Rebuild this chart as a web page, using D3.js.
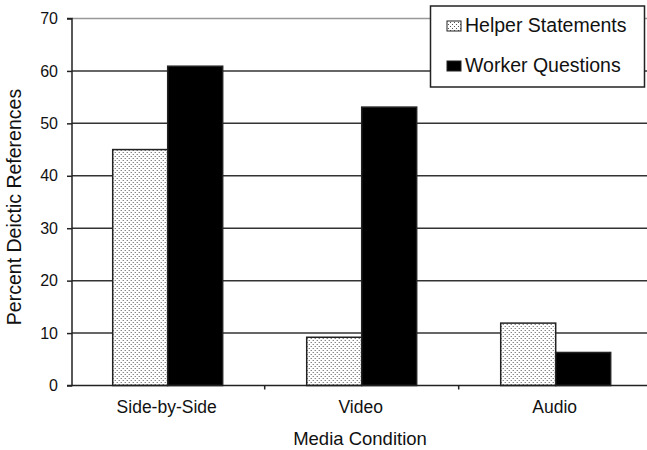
<!DOCTYPE html>
<html>
<head>
<meta charset="utf-8">
<script src="https://cdn.jsdelivr.net/npm/d3@7"></script>
<style>
  html, body { margin: 0; padding: 0; background: #fff; }
  svg { display: block; font-family: "Liberation Sans", Arial, Helvetica, sans-serif; }
</style>
</head>
<body>
<svg id="chart" width="647" height="450"></svg>
<script>
const categories = ["Side-by-Side", "Video", "Audio"];
const seriesNames = ["Helper Statements", "Worker Questions"];
const helperValues = [45.0, 9.2, 11.9];
const workerValues = [60.9, 53.1, 6.3];
const yTicks = [0, 10, 20, 30, 40, 50, 60, 70];
const xTitle = "Media Condition";
const yTitle = "Percent Deictic References";

const seriesValues = [helperValues, workerValues];
const data = categories.map((c, i) => ({ cat: c, vals: seriesNames.map((s, j) => ({ s, v: seriesValues[j][i] })) }));

const svg = d3.select("#chart");
const defs = svg.append("defs");
const pat = defs.append("pattern").attr("id", "dots").attr("patternUnits", "userSpaceOnUse")
  .attr("width", 4).attr("height", 4);
pat.append("rect").attr("width", 4).attr("height", 4).attr("fill", "#fff");
pat.append("rect").attr("x", 0).attr("y", 0).attr("width", 1).attr("height", 1).attr("fill", "#555");
pat.append("rect").attr("x", 2).attr("y", 2).attr("width", 1).attr("height", 1).attr("fill", "#555");

const pLeft = 72, pTop = 18.5, pBottom = 385.5;
const x = d3.scaleBand().domain(categories).range([70.7, 652.7]).paddingInner(0).paddingOuter(0);
const xs = d3.scaleBand().domain(seriesNames).range([0, x.bandwidth()]).paddingInner(0).paddingOuter(0.764);
const y = d3.scaleLinear().domain([0, 70]).range([pBottom, pTop]);
const fills = { "Helper Statements": "url(#dots)", "Worker Questions": "#000" };

// gridlines
svg.append("g").selectAll("line").data(yTicks.filter(t => t > 0)).join("line")
  .attr("x1", pLeft).attr("x2", 647)
  .attr("y1", d => y(d)).attr("y2", d => y(d))
  .attr("stroke", d => d === 70 ? "#999" : "#333").attr("stroke-width", 1.5);

// bars
const g = svg.append("g").selectAll("g").data(data).join("g")
  .attr("transform", d => `translate(${x(d.cat)},0)`);
g.selectAll("rect").data(d => d.vals).join("rect")
  .attr("x", d => xs(d.s)).attr("width", xs.bandwidth())
  .attr("y", d => y(d.v)).attr("height", d => y(0) - y(d.v))
  .attr("fill", d => fills[d.s]).attr("stroke", "#222").attr("stroke-width", 1.5);

// y axis
const yAxis = d3.axisLeft(y).tickValues(yTicks).tickSize(5).tickPadding(9);
const ya = svg.append("g").attr("transform", `translate(${pLeft},0)`).call(yAxis);
ya.select(".domain").attr("stroke", "#222").attr("stroke-width", 1.5).attr("d", `M-5,${pTop}H0V${pBottom}H-5`);
ya.selectAll(".tick line").attr("stroke", "#222").attr("stroke-width", 1.5);
ya.selectAll(".tick text").attr("font-size", 16).attr("fill", "#111").attr("font-family", "Liberation Sans, Arial, sans-serif");

// x axis
svg.append("line").attr("x1", pLeft).attr("x2", 647).attr("y1", pBottom).attr("y2", pBottom)
  .attr("stroke", "#222").attr("stroke-width", 1.5);
svg.append("g").selectAll("line").data(categories.slice(1)).join("line")
  .attr("x1", d => x(d)).attr("x2", d => x(d)).attr("y1", pBottom).attr("y2", pBottom + 4)
  .attr("stroke", "#222").attr("stroke-width", 1.5);
svg.append("g").selectAll("text").data(categories).join("text")
  .attr("x", d => x(d) + x.bandwidth() / 2 - 1).attr("y", 413)
  .attr("text-anchor", "middle").attr("font-size", 17.5).attr("fill", "#111")
  .text(d => d);

// titles
svg.append("text").attr("x", 360).attr("y", 445).attr("text-anchor", "middle")
  .attr("font-size", 18.5).attr("fill", "#111").text(xTitle);
svg.append("text").attr("transform", `translate(21,${(pTop + pBottom) / 2 + 5}) rotate(-90)`)
  .attr("text-anchor", "middle").attr("font-size", 19.5).attr("fill", "#111").text(yTitle);

// legend
const lg = svg.append("g");
lg.append("rect").attr("x", 430.5).attr("y", 6).attr("width", 214).attr("height", 81)
  .attr("fill", "#fff").attr("stroke", "#222").attr("stroke-width", 1.5);
const li = lg.selectAll("g").data(seriesNames).join("g")
  .attr("transform", (d, i) => `translate(0,${i * 40})`);
li.append("rect").attr("x", 447).attr("y", 21).attr("width", 14).attr("height", 10)
  .attr("fill", d => fills[d]).attr("stroke", "#222").attr("stroke-width", 1);
li.append("text").attr("x", 465).attr("y", 32).attr("font-size", 19.5).attr("fill", "#111")
  .text(d => d);
</script>
</body>
</html>
